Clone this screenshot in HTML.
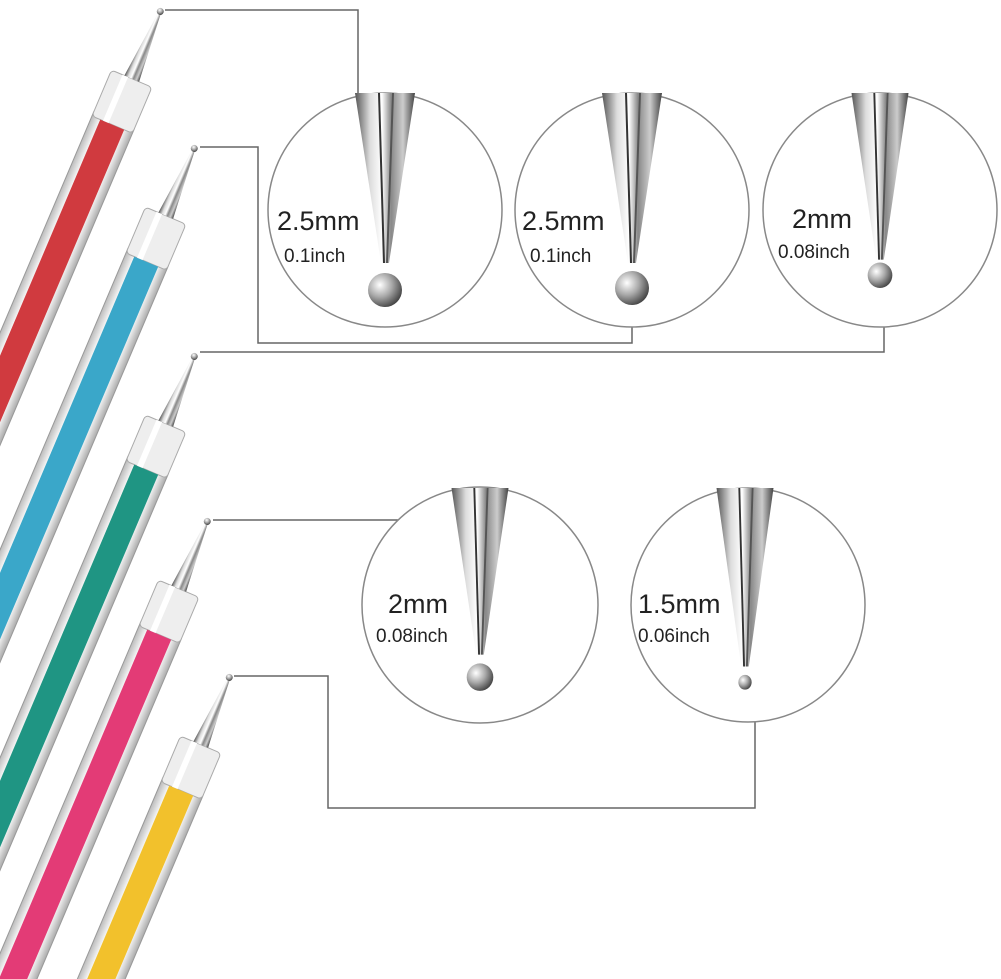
<!DOCTYPE html>
<html><head><meta charset="utf-8"><style>
html,body{margin:0;padding:0;background:#fff;overflow:hidden;width:1001px;height:979px;}
svg{display:block;overflow:hidden;}
text{font-family:"Liberation Sans",sans-serif;fill:#222;}
</style></head><body>
<svg width="1001" height="979" viewBox="0 0 1001 979" overflow="hidden" xmlns="http://www.w3.org/2000/svg">
<defs>
<clipPath id="frame"><rect x="0" y="0" width="1001" height="979"/></clipPath>
<linearGradient id="metal" x1="0" x2="1" y1="0" y2="0">
<stop offset="0" stop-color="#555"/><stop offset="0.25" stop-color="#ddd"/><stop offset="0.45" stop-color="#fff"/><stop offset="0.6" stop-color="#888"/><stop offset="0.8" stop-color="#ccc"/><stop offset="1" stop-color="#444"/>
</linearGradient>
<radialGradient id="ball" cx="0.35" cy="0.35" r="0.7"><stop offset="0" stop-color="#fff"/><stop offset="0.5" stop-color="#aaa"/><stop offset="1" stop-color="#444"/></radialGradient>
<linearGradient id="clear" x1="0" x2="1"><stop offset="0" stop-color="#bbb"/><stop offset="0.2" stop-color="#f4f4f4"/><stop offset="0.5" stop-color="#fff"/><stop offset="0.8" stop-color="#eee"/><stop offset="1" stop-color="#aaa"/></linearGradient>
<g id="pen">
<rect x="-22" y="125" width="44" height="760" fill="url(#clear)" stroke="#999" stroke-width="1"/>
<rect x="-22" y="80" width="44" height="50" rx="4" fill="#eee" stroke="#aaa"/>
<rect x="-10" y="80" width="6" height="50" fill="#fff"/>
<polygon points="-1.5,10 1.5,10 8,80 -8,80" fill="url(#metal)"/>
<circle cx="0" cy="7" r="3.5" fill="url(#ball)"/>
</g>
<g id="needle">
<polygon points="-30,0 30,0 4,170 -4,170" fill="url(#metal)"/>
<line x1="-6" y1="0" x2="-1" y2="170" stroke="#333" stroke-width="2"/>
<line x1="8" y1="0" x2="2" y2="170" stroke="#555" stroke-width="2"/>
</g>
</defs>
<g clip-path="url(#frame)">
<g fill="none" stroke="#666" stroke-width="1.5">
<polyline points="165,10 358,10 358,95"/>
<polyline points="200,147 258,147 258,343 632,343 632,327"/>
<polyline points="200,352 884,352 884,327"/>
<polyline points="213,520 400,520"/>
<polyline points="234,676 328,676 328,808 755,808 755,720"/>
</g>
<g transform="translate(163,5) rotate(23)"><use href="#pen"/><rect x="-13" y="130" width="26" height="750" fill="#d03a3f"/></g>
<g transform="translate(197,142) rotate(23)"><use href="#pen"/><rect x="-13" y="130" width="26" height="750" fill="#3aa7c9"/></g>
<g transform="translate(197,350) rotate(23)"><use href="#pen"/><rect x="-13" y="130" width="26" height="750" fill="#1f9583"/></g>
<g transform="translate(210,515) rotate(23)"><use href="#pen"/><rect x="-13" y="130" width="26" height="750" fill="#e33b76"/></g>
<g transform="translate(232,671) rotate(23)"><use href="#pen"/><rect x="-13" y="130" width="26" height="750" fill="#f2c12c"/></g>
<g stroke="#888" stroke-width="1.5" fill="#fff">
<circle cx="385" cy="210" r="117"/>
<circle cx="632" cy="210" r="117"/>
<circle cx="880" cy="210" r="117"/>
<circle cx="480" cy="605" r="118"/>
<circle cx="748" cy="605" r="117"/>
</g>
<g transform="translate(385,93)"><use href="#needle"/><circle cx="0" cy="197" r="17" fill="url(#ball)"/></g>
<g transform="translate(632,93)"><use href="#needle"/><circle cx="0" cy="195" r="17" fill="url(#ball)"/></g>
<g transform="translate(880,93) scale(0.95,0.98)"><use href="#needle"/><circle cx="0" cy="186" r="13" fill="url(#ball)"/></g>
<g transform="translate(480,488) scale(0.95,0.98)"><use href="#needle"/><circle cx="0" cy="193" r="14" fill="url(#ball)"/></g>
<g transform="translate(745,488) scale(0.95,1.05)"><use href="#needle"/><circle cx="0" cy="185" r="7" fill="url(#ball)"/></g>
<text x="277" y="230" font-size="27">2.5mm</text><text x="284" y="262" font-size="19">0.1inch</text>
<text x="522" y="230" font-size="27">2.5mm</text><text x="530" y="262" font-size="19">0.1inch</text>
<text x="792" y="228" font-size="27">2mm</text><text x="778" y="258" font-size="19">0.08inch</text>
<text x="388" y="613" font-size="27">2mm</text><text x="376" y="642" font-size="19">0.08inch</text>
<text x="638" y="613" font-size="27">1.5mm</text><text x="638" y="642" font-size="19">0.06inch</text>
</g>
</svg>
</body></html>
